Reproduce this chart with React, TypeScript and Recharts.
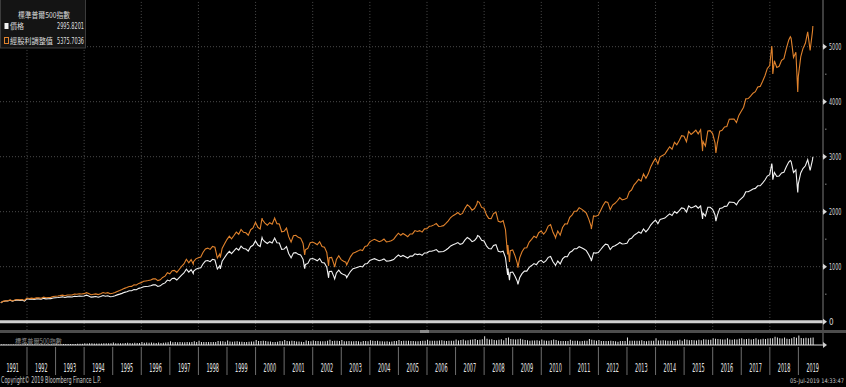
import { ComposedChart, BarChart, Line, Bar, XAxis, YAxis, ReferenceLine } from "recharts";

// 標準普爾500指數: 月底收盤價 (1991-01 .. 2019-06)
const years = [
  1991, 1992, 1993, 1994, 1995, 1996, 1997, 1998, 1999, 2000, 2001, 2002, 2003, 2004, 2005,
  2006, 2007, 2008, 2009, 2010, 2011, 2012, 2013, 2014, 2015, 2016, 2017, 2018, 2019,
];

const priceMonthly = [
  [343.93, 367.07, 375.22, 375.34, 389.83, 371.16, 387.81, 395.43, 387.86, 392.45, 375.22, 417.09],
  [408.79, 412.7, 403.69, 414.95, 415.35, 408.14, 424.21, 414.03, 417.8, 418.68, 431.35, 435.71],
  [438.78, 443.38, 451.67, 440.19, 450.19, 450.53, 448.13, 463.56, 458.93, 467.83, 461.79, 466.45],
  [481.61, 467.14, 445.77, 450.91, 456.5, 444.27, 458.26, 475.49, 462.69, 472.35, 453.69, 459.27],
  [470.42, 487.39, 500.71, 514.71, 533.4, 544.75, 562.06, 561.88, 584.41, 581.5, 605.37, 615.93],
  [636.02, 640.43, 645.5, 654.17, 669.12, 670.63, 639.95, 651.99, 687.31, 705.27, 757.02, 740.74],
  [786.16, 790.82, 757.12, 801.34, 848.28, 885.14, 954.31, 899.47, 947.28, 914.62, 955.4, 970.43],
  [980.28, 1049.34, 1101.75, 1111.75, 1090.82, 1133.84, 1120.67, 957.28, 1017.01, 1098.67, 1163.63, 1229.23],
  [1279.64, 1238.33, 1286.37, 1335.18, 1301.84, 1372.71, 1328.72, 1320.41, 1282.71, 1362.93, 1388.91, 1469.25],
  [1394.46, 1366.42, 1498.58, 1452.43, 1420.6, 1454.6, 1430.83, 1517.68, 1436.51, 1429.4, 1314.95, 1320.28],
  [1366.01, 1239.94, 1160.33, 1249.46, 1255.82, 1224.42, 1211.23, 1133.58, 1040.94, 1059.78, 1139.45, 1148.08],
  [1130.2, 1106.73, 1147.39, 1076.92, 1067.14, 989.82, 911.62, 916.07, 815.28, 885.76, 936.31, 879.82],
  [855.7, 841.15, 848.18, 916.92, 963.59, 974.5, 990.31, 1008.01, 995.97, 1050.71, 1058.2, 1111.92],
  [1131.13, 1144.94, 1126.21, 1107.3, 1120.68, 1140.84, 1101.72, 1104.24, 1114.58, 1130.2, 1173.82, 1211.92],
  [1181.27, 1203.6, 1180.59, 1156.85, 1191.5, 1191.33, 1234.18, 1220.33, 1228.81, 1207.01, 1249.48, 1248.29],
  [1280.08, 1280.66, 1294.83, 1310.61, 1270.09, 1270.2, 1276.66, 1303.82, 1335.85, 1377.94, 1400.63, 1418.3],
  [1438.24, 1406.82, 1420.86, 1482.37, 1530.62, 1503.35, 1455.27, 1473.99, 1526.75, 1549.38, 1481.14, 1468.36],
  [1378.55, 1330.63, 1322.7, 1385.59, 1400.38, 1280.0, 1267.38, 1282.83, 1166.36, 968.75, 896.24, 903.25],
  [825.88, 735.09, 797.87, 872.81, 919.14, 919.32, 987.48, 1020.62, 1057.08, 1036.19, 1095.63, 1115.1],
  [1073.87, 1104.49, 1169.43, 1186.69, 1089.41, 1030.71, 1101.6, 1049.33, 1141.2, 1183.26, 1180.55, 1257.64],
  [1286.12, 1327.22, 1325.83, 1363.61, 1345.2, 1320.64, 1292.28, 1218.89, 1131.42, 1253.3, 1246.96, 1257.6],
  [1312.41, 1365.68, 1408.47, 1397.91, 1310.33, 1362.16, 1379.32, 1406.58, 1440.67, 1412.16, 1416.18, 1426.19],
  [1498.11, 1514.68, 1569.19, 1597.57, 1630.74, 1606.28, 1685.73, 1632.97, 1681.55, 1756.54, 1805.81, 1848.36],
  [1782.59, 1859.45, 1872.34, 1883.95, 1923.57, 1960.23, 1930.67, 2003.37, 1972.29, 2018.05, 2067.56, 2058.9],
  [1994.99, 2104.5, 2067.89, 2085.51, 2107.39, 2063.11, 2103.84, 1972.18, 1920.03, 2079.36, 2080.41, 2043.94],
  [1940.24, 1932.23, 2059.74, 2065.3, 2096.95, 2098.86, 2173.6, 2170.95, 2168.27, 2126.15, 2198.81, 2238.83],
  [2278.87, 2363.64, 2362.72, 2384.2, 2411.8, 2423.41, 2470.3, 2471.65, 2519.36, 2575.26, 2647.58, 2673.61],
  [2823.81, 2713.83, 2640.87, 2648.05, 2705.27, 2718.37, 2816.29, 2901.52, 2913.98, 2711.74, 2760.17, 2506.85],
  [2704.1, 2784.49, 2834.4, 2945.83, 2752.06, 2941.76],
];

// 經股利調整值 (total return, same start)
const totalMonthly = [
  [344.8, 369.0, 378.2, 379.3, 395.0, 377.0, 395.0, 403.8, 397.1, 402.8, 386.1, 430.3],
  [422.7, 427.8, 419.5, 432.3, 433.8, 427.3, 445.2, 435.5, 440.6, 442.5, 457.1, 462.8],
  [467.1, 473.2, 483.2, 472.0, 483.9, 485.4, 483.9, 501.8, 497.9, 508.7, 503.4, 509.6],
  [527.4, 512.8, 490.5, 497.3, 504.7, 492.3, 509.0, 529.4, 516.3, 528.3, 508.6, 516.1],
  [529.7, 550.0, 566.3, 583.3, 605.8, 620.0, 641.0, 642.1, 669.3, 667.3, 696.2, 709.8],
  [734.3, 740.7, 747.9, 759.2, 778.0, 781.2, 746.7, 762.1, 804.8, 827.3, 889.5, 871.9],
  [926.7, 933.6, 895.1, 948.7, 1005.7, 1050.9, 1134.7, 1071.0, 1129.5, 1092.2, 1142.5, 1162.1],
  [1175.3, 1259.6, 1324.1, 1337.7, 1314.0, 1367.5, 1353.2, 1157.3, 1231.0, 1331.4, 1411.7, 1493.0],
  [1555.8, 1507.2, 1567.2, 1628.3, 1589.3, 1677.5, 1625.3, 1616.8, 1572.2, 1672.2, 1705.9, 1806.3],
  [1716.1, 1683.3, 1848.1, 1792.9, 1755.4, 1799.2, 1771.6, 1881.0, 1782.3, 1775.2, 1634.7, 1643.0],
  [1701.8, 1546.5, 1448.8, 1561.7, 1571.4, 1533.8, 1519.0, 1423.2, 1308.3, 1333.4, 1435.3, 1447.7],
  [1427.2, 1399.6, 1453.2, 1365.9, 1355.4, 1258.9, 1161.1, 1168.5, 1041.4, 1133.1, 1199.4, 1128.6],
  [1099.3, 1082.1, 1092.8, 1183.0, 1245.1, 1260.9, 1283.2, 1308.0, 1294.3, 1367.3, 1379.0, 1451.1],
  [1478.3, 1498.5, 1476.1, 1453.3, 1473.0, 1501.7, 1452.3, 1457.7, 1473.5, 1496.2, 1556.1, 1608.9],
  [1570.7, 1603.1, 1574.9, 1545.8, 1594.6, 1597.0, 1657.0, 1641.0, 1655.1, 1628.3, 1688.3, 1689.3],
  [1735.0, 1738.5, 1760.3, 1784.5, 1732.0, 1734.8, 1746.2, 1786.1, 1832.8, 1893.4, 1927.4, 1954.7],
  [1985.4, 1945.2, 1967.8, 2056.2, 2126.5, 2092.1, 2028.4, 2057.7, 2134.7, 2169.9, 2077.6, 2062.9],
  [1941.4, 1878.3, 1871.6, 1965.2, 1990.9, 1824.0, 1810.3, 1836.6, 1673.9, 1393.5, 1292.2, 1305.3],
  [1195.8, 1066.5, 1159.8, 1271.2, 1341.3, 1344.1, 1446.6, 1498.1, 1554.5, 1526.7, 1617.5, 1649.4],
  [1590.9, 1638.9, 1738.1, 1766.6, 1624.4, 1539.3, 1647.8, 1572.1, 1712.5, 1778.4, 1777.2, 1896.3],
  [1942.7, 2008.4, 2009.8, 2070.8, 2046.4, 2012.7, 1972.8, 1864.1, 1733.3, 1923.4, 1917.1, 1936.8],
  [2025.0, 2111.2, 2181.3, 2169.0, 2036.9, 2121.4, 2152.0, 2198.6, 2256.1, 2215.5, 2225.8, 2245.7],
  [2363.0, 2393.2, 2483.4, 2532.7, 2589.6, 2555.1, 2685.9, 2606.2, 2688.3, 2812.9, 2896.5, 2969.8],
  [2868.7, 2997.3, 3022.9, 3046.5, 3115.6, 3180.1, 3137.2, 3260.5, 3215.0, 3294.9, 3381.1, 3372.3],
  [3273.4, 3459.2, 3405.2, 3440.3, 3482.5, 3415.3, 3488.8, 3276.2, 3195.3, 3466.5, 3474.3, 3419.3],
  [3251.6, 3244.0, 3464.1, 3479.6, 3539.2, 3548.8, 3681.7, 3683.7, 3685.4, 3620.2, 3750.5, 3825.5],
  [3900.2, 4051.8, 4056.8, 4100.3, 4154.3, 4181.1, 4268.9, 4277.9, 4367.6, 4471.6, 4604.4, 4657.2],
  [4927.3, 4743.3, 4623.7, 4643.9, 4752.4, 4783.5, 4964.0, 5122.9, 5153.7, 4803.8, 4898.0, 4455.7],
  [4813.8, 4964.8, 5061.4, 5268.6, 4929.8, 5277.8],
];

// 成交量 (億股, 讀圖估計)
const volumeMonthly = [
  [0.3, 0.4, 0.3, 0.3, 0.3, 0.3, 0.3, 0.3, 0.3, 0.3, 0.4, 0.6],
  [0.4, 0.4, 0.4, 0.3, 0.3, 0.4, 0.3, 0.3, 0.4, 0.4, 0.4, 0.7],
  [0.5, 0.5, 0.5, 0.5, 0.5, 0.5, 0.5, 0.5, 0.6, 0.6, 0.6, 0.9],
  [0.7, 0.8, 0.9, 0.7, 0.7, 0.7, 0.7, 0.8, 0.8, 0.8, 0.8, 1.2],
  [0.8, 0.9, 0.9, 0.8, 1.0, 1.1, 1.0, 0.9, 1.1, 1.0, 1.0, 1.5],
  [1.1, 1.2, 1.1, 1.2, 1.1, 1.0, 1.2, 1.0, 1.1, 1.2, 1.3, 1.8],
  [1.3, 1.4, 1.3, 1.4, 1.3, 1.3, 1.4, 1.3, 1.4, 1.8, 1.4, 2.0],
  [1.4, 1.5, 1.5, 1.5, 1.4, 1.5, 1.5, 1.9, 1.8, 1.8, 1.6, 2.2],
  [1.7, 1.6, 1.7, 1.8, 1.6, 1.6, 1.5, 1.5, 1.6, 1.7, 1.7, 2.4],
  [1.9, 1.9, 2.1, 1.9, 1.7, 1.7, 1.5, 1.5, 1.6, 1.9, 1.8, 2.4],
  [1.9, 1.8, 2.1, 1.9, 1.7, 1.7, 1.6, 1.5, 2.2, 1.9, 1.8, 2.2],
  [1.9, 1.9, 1.8, 1.8, 1.8, 2.0, 2.5, 1.9, 2.0, 2.1, 1.9, 2.4],
  [1.8, 1.8, 1.9, 1.8, 1.8, 1.9, 1.8, 1.6, 1.9, 1.9, 1.8, 2.3],
  [2.0, 1.9, 2.0, 1.8, 1.8, 1.7, 1.8, 1.6, 1.7, 1.9, 1.9, 2.4],
  [1.9, 2.0, 2.0, 2.1, 1.9, 1.9, 1.8, 1.8, 1.9, 2.1, 2.0, 2.5],
  [2.0, 2.0, 2.1, 2.0, 2.2, 2.3, 2.0, 1.9, 2.0, 2.1, 2.1, 2.6],
  [2.2, 2.4, 2.6, 2.2, 2.3, 2.5, 2.7, 2.9, 2.4, 2.5, 2.8, 4.2],
  [3.0, 2.7, 2.8, 2.4, 2.3, 2.5, 2.8, 2.3, 3.4, 3.6, 2.9, 2.8],
  [2.6, 2.8, 3.0, 2.6, 2.4, 2.3, 2.1, 2.2, 2.2, 2.3, 2.1, 2.7],
  [2.2, 2.1, 2.1, 2.3, 2.7, 2.4, 2.0, 1.9, 1.9, 1.9, 1.9, 2.5],
  [2.0, 2.0, 2.1, 1.8, 1.9, 2.0, 2.0, 2.9, 2.5, 2.3, 2.0, 2.4],
  [1.9, 1.9, 1.9, 1.9, 2.0, 1.9, 1.8, 1.6, 1.9, 1.9, 1.9, 3.6],
  [2.0, 2.1, 2.0, 2.1, 2.1, 2.3, 1.9, 1.8, 2.1, 2.1, 2.0, 3.3],
  [2.2, 2.2, 2.3, 2.2, 2.0, 2.1, 2.0, 1.9, 2.2, 2.5, 2.1, 2.8],
  [2.5, 2.3, 2.4, 2.3, 2.2, 2.5, 2.3, 2.8, 2.7, 2.5, 2.5, 3.2],
  [3.0, 2.9, 2.8, 2.6, 2.6, 3.3, 2.6, 2.5, 2.8, 2.6, 3.0, 3.3],
  [2.8, 2.9, 3.0, 2.7, 2.9, 3.2, 2.7, 2.8, 3.0, 2.9, 3.1, 3.3],
  [3.2, 4.0, 3.6, 3.2, 3.1, 3.6, 3.0, 2.9, 3.3, 3.8, 3.5, 4.6],
  [3.4, 3.3, 3.5, 3.2, 3.5, 3.6],
];

// 月內高低點
const extraDates = [
  "1997-10-27", "1998-10-08", "2000-03-24", "2000-09-01", "2001-09-21", "2002-07-23",
  "2002-10-09", "2003-03-11", "2007-10-09", "2008-10-27", "2008-11-20", "2009-03-09",
  "2010-07-02", "2011-10-03", "2015-08-25", "2016-02-11", "2018-01-26", "2018-02-08",
  "2018-09-20", "2018-12-24", "2019-07-05",
];
const extraPrice = [
  876.99, 959.44, 1527.46, 1520.77, 965.8, 797.7, 776.76, 800.73, 1565.15, 848.92, 752.44,
  676.53, 1022.58, 1099.23, 1867.61, 1829.08, 2872.87, 2581.0, 2930.75, 2351.1, 2995.82,
];
const extraTotal = [
  1046.7, 1162.6, 1883.4, 1885.3, 1213.5, 1015.8, 992.5, 1030.7, 2189.3, 1220.3, 1084.0,
  982.0, 1527.4, 1684.2, 3101.7, 3067.0, 5010.6, 4505.2, 5181.0, 4176.7, 5375.7,
];

const priceTicks = [0, 500, 1000, 1500, 2000, 2500, 3000, 3500, 4000, 4500, 5000];
const gridValues = [1000, 2000, 3000, 4000, 5000];
const gridYears = [1992, 1994, 1996, 1998, 2000, 2002, 2004, 2006, 2008, 2010, 2012, 2014, 2016, 2018];
const yearTicks = [...years.slice(1), ...years.map((y) => y + 0.5)].sort((a, b) => a - b);

const legendTitle = "標準普爾500指數";
const legendPrice = "價格";
const legendTotal = "經股利調整值";
const lastPrice = "2995.8201";
const lastTotal = "5375.7036";
const copyright = "Copyright© 2019 Bloomberg Finance L.P.";
const stamp = "05-Jul-2019 14:33:47";

const NARROW = "'Liberation Sans Narrow', 'DejaVu Sans Condensed', 'Liberation Sans', sans-serif";
const CJK = "'Noto Sans CJK TC', 'Noto Sans CJK SC', sans-serif";

const yearFrac = (y: number, m: number, d: number) =>
  y + (Date.UTC(y, m, d) - Date.UTC(y, 0, 1)) / (365.25 * 86400000);

const rows: { t: number; price: number; total: number }[] = [];
const volumeRows: { i: number; vol: number }[] = [];
years.forEach((y, i) => {
  priceMonthly[i].forEach((p, m) => {
    const lastDay = new Date(Date.UTC(y, m + 1, 0)).getUTCDate();
    rows.push({ t: yearFrac(y, m, lastDay), price: p, total: totalMonthly[i][m] });
    volumeRows.push({ i: volumeRows.length, vol: volumeMonthly[i][m] });
  });
});
extraDates.forEach((s, i) => {
  const [y, m, d] = s.split("-").map(Number);
  rows.push({ t: yearFrac(y, m - 1, d), price: extraPrice[i], total: extraTotal[i] });
});
rows.sort((a, b) => a.t - b.t);

function PriceTick(props: any) {
  const { x, y, payload } = props;
  const v = payload.value;
  if (v % 1000 !== 0) return <rect x={x + 2} y={y - 0.5} width={1.5} height={1} fill="#8a8a8a" />;
  const s = String(v);
  return (
    <g>
      <polygon points={`${x},${y - 3} ${x + 4},${y} ${x},${y + 3}`} fill="#d8d8d8" />
      <text
        x={x + 6}
        y={y + 3}
        fill="#d8d8d8"
        fontSize={8}
        fontFamily={NARROW}
        {...(s.length > 1 ? { textLength: s.length * 3.1, lengthAdjust: "spacingAndGlyphs" } : {})}
      >
        {s}
      </text>
    </g>
  );
}

function YearTick(props: any) {
  const { x, y, payload } = props;
  const v = payload.value;
  if (Number.isInteger(v)) return <line x1={x} x2={x} y1={y + 2} y2={y + 30} stroke="#6e6e6e" />;
  return (
    <text
      x={x}
      y={y + 27}
      textAnchor="middle"
      fill="#e4e4e4"
      fontSize={12}
      fontFamily={NARROW}
      textLength={12.5}
      lengthAdjust="spacingAndGlyphs"
    >
      {Math.floor(v)}
    </text>
  );
}

export default function App() {
  return (
    <div style={{ position: "relative", width: 846, height: 387, background: "#000", overflow: "hidden" }}>
      <style>{`body{margin:0;background:#000}`}</style>
      <ComposedChart width={846} height={377} data={rows} margin={{ top: 0, right: 0, bottom: 0, left: 0 }}>
        <XAxis
          dataKey="t"
          type="number"
          domain={[1991.055, 2019.861]}
          allowDataOverflow
          ticks={yearTicks}
          interval={0}
          tick={(p: any) => <YearTick {...p} />}
          tickLine={false}
          tickSize={0}
          tickMargin={0}
          axisLine={{ stroke: "#dcdcdc" }}
          height={32}
        />
        <YAxis
          yAxisId="px"
          orientation="right"
          width={23}
          domain={[-424, 5849]}
          allowDataOverflow
          ticks={priceTicks}
          interval={0}
          tick={(p: any) => <PriceTick {...p} />}
          tickLine={false}
          tickSize={0}
          tickMargin={0}
          axisLine={{ stroke: "#7a7a7a" }}
        />
        {gridValues.map((v) => (
          <ReferenceLine key={`h${v}`} yAxisId="px" y={v} stroke="#4a4a4a" strokeDasharray="1 2" />
        ))}
        {gridYears.map((yr) => (
          <ReferenceLine
            key={`v${yr}`}
            yAxisId="px"
            segment={[{ x: yr, y: -150 }, { x: yr, y: 5849 }]}
            stroke="#4a4a4a"
            strokeDasharray="1 2"
          />
        ))}
        <ReferenceLine yAxisId="px" y={0} stroke="#cfcfcf" strokeWidth={3} />
        <Line
          yAxisId="px"
          dataKey="price"
          stroke="#f2f2f2"
          strokeWidth={1.1}
          dot={false}
          activeDot={false}
          isAnimationActive={false}
        />
        <Line
          yAxisId="px"
          dataKey="total"
          stroke="#e0822c"
          strokeWidth={1.1}
          dot={false}
          activeDot={false}
          isAnimationActive={false}
        />
      </ComposedChart>

      <div style={{ position: "absolute", left: 0, top: 335 }}>
        <BarChart width={814} height={10} data={volumeRows} margin={{ top: 0, right: 0, bottom: 0, left: 0 }} barCategoryGap={0}>
          <XAxis dataKey="i" hide />
          <YAxis hide domain={[0, 4.8]} />
          <Bar dataKey="vol" barSize={1} fill="#e6e6e6" isAnimationActive={false} />
        </BarChart>
      </div>

      <div style={{ position: "absolute", left: 0, top: 330, width: 846, height: 3, background: "#4d4d4d" }} />
      <div style={{ position: "absolute", left: 420, top: 330, width: 9, height: 3, background: "#8a8a8a" }} />

      <svg width={846} height={387} style={{ position: "absolute", left: 0, top: 0, pointerEvents: "none" }}>
        <rect x={0.5} y={-1} width={85} height={49} fill="#141414" stroke="#3c3c3c" />
        <text x={18} y={18} fill="#dedede" fontSize={8} fontFamily={CJK} textLength={52} lengthAdjust="spacingAndGlyphs">
          {legendTitle}
        </text>
        <rect x={4.5} y={23} width={4} height={6} fill="#f2f2f2" />
        <text x={10} y={29} fill="#dedede" fontSize={7.5} fontFamily={CJK} textLength={14} lengthAdjust="spacingAndGlyphs">
          {legendPrice}
        </text>
        <text x={57} y={29} fill="#dedede" fontSize={9} fontFamily={NARROW} textLength={27} lengthAdjust="spacingAndGlyphs">
          {lastPrice}
        </text>
        <rect x={4.5} y={37.5} width={4} height={6} fill="none" stroke="#e0822c" />
        <text x={10} y={44} fill="#dedede" fontSize={7.5} fontFamily={CJK} textLength={43} lengthAdjust="spacingAndGlyphs">
          {legendTotal}
        </text>
        <text x={57} y={44} fill="#dedede" fontSize={9} fontFamily={NARROW} textLength={27} lengthAdjust="spacingAndGlyphs">
          {lastTotal}
        </text>

        <text x={15} y={344} fill="#8a8a8a" fontSize={7} fontFamily={CJK} textLength={47} lengthAdjust="spacingAndGlyphs">
          {legendTitle}
        </text>
        <polygon points="823,342 827,345 823,348" fill="#cfcfcf" />

        <text x={1} y={383} fill="#c8c8c8" fontSize={8} fontFamily={NARROW} textLength={100} lengthAdjust="spacingAndGlyphs">
          {copyright}
        </text>
        <text x={790} y={383} fill="#c8c8c8" fontSize={6.3} fontFamily={NARROW} textLength={54} lengthAdjust="spacingAndGlyphs">
          {stamp}
        </text>
      </svg>
    </div>
  );
}
